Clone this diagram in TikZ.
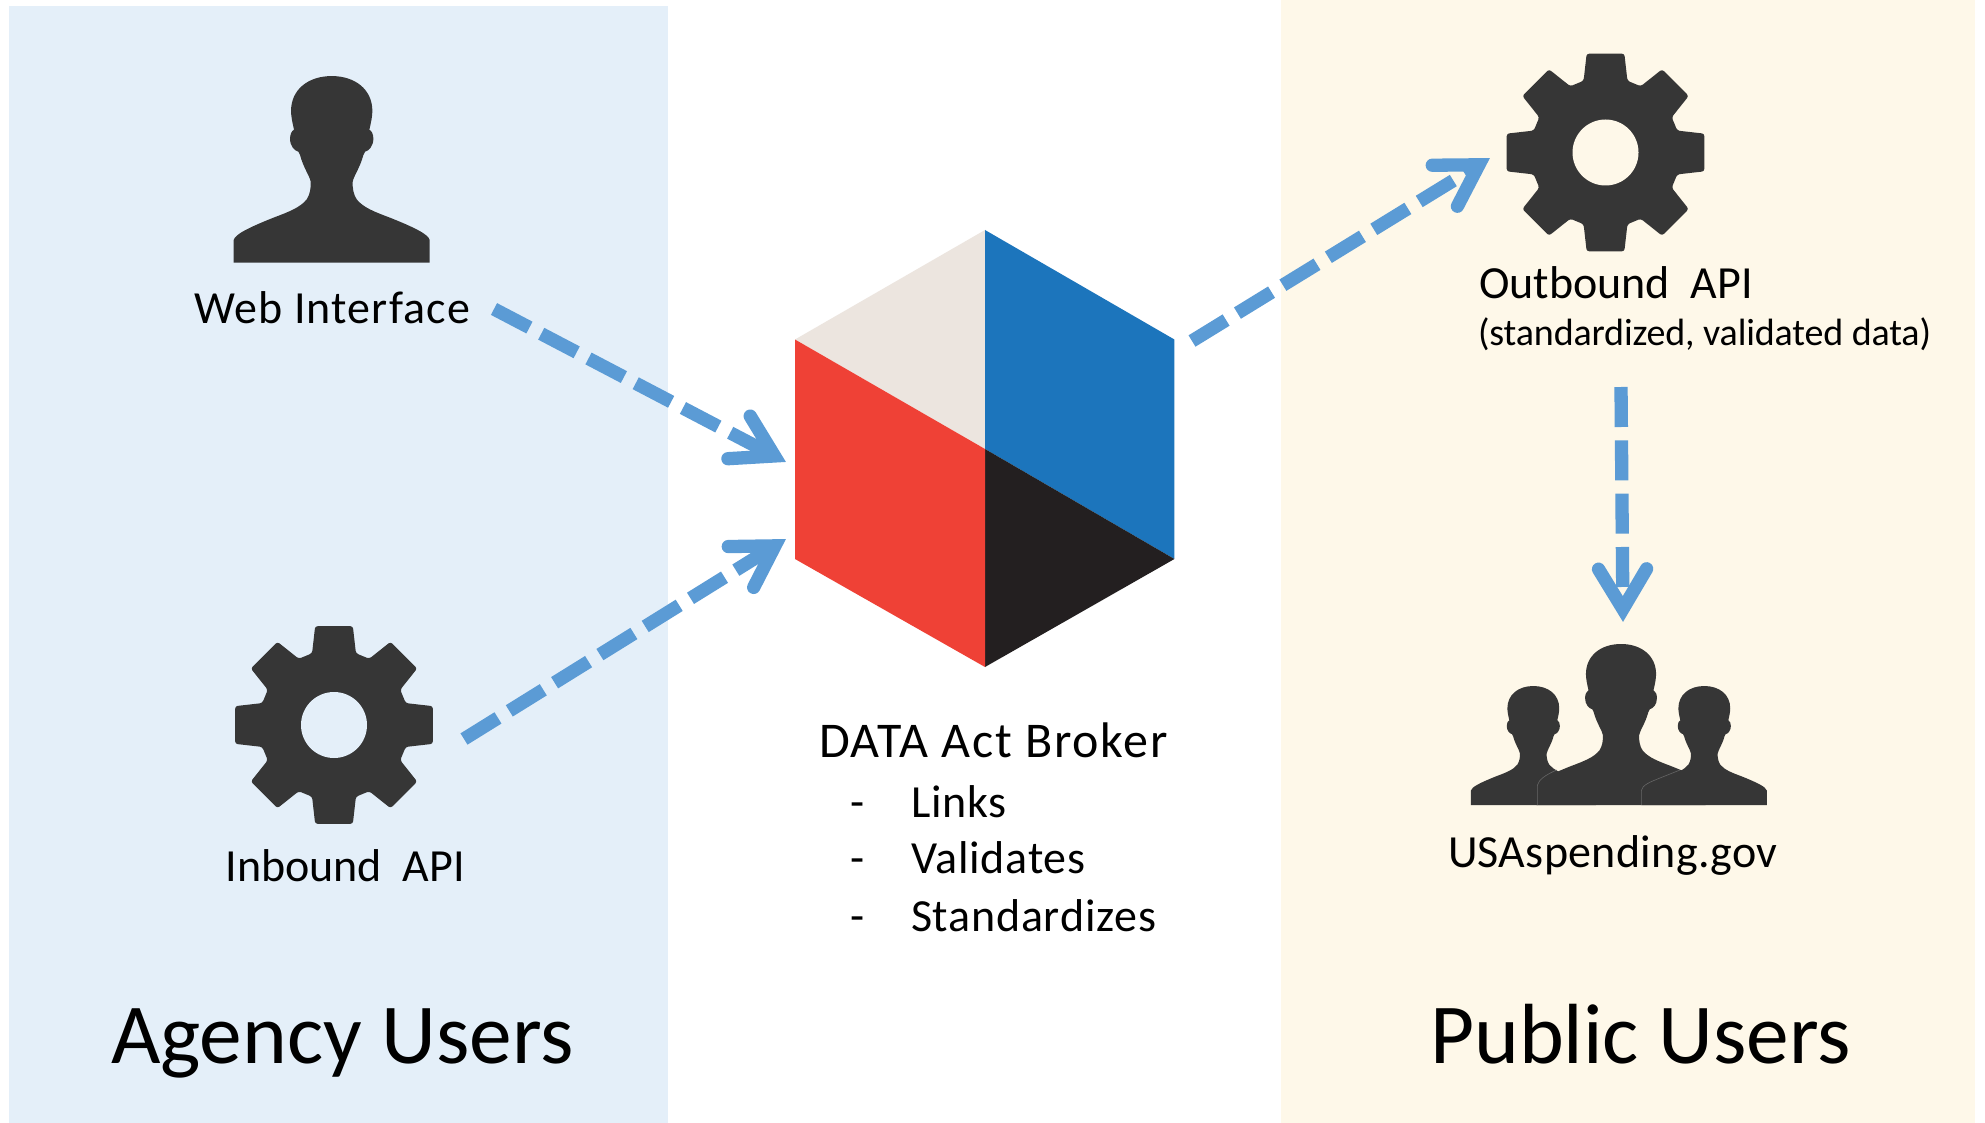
\documentclass[tikz,border=0pt]{standalone}
\usepackage{fontspec}
\setmainfont{Carlito}
\usetikzlibrary{calc}
\definecolor{agencybg}{HTML}{E4EFF9}
\definecolor{publicbg}{HTML}{FEF8E9}
\definecolor{iconcol}{HTML}{363636}
\definecolor{edgecol}{HTML}{666666}
\definecolor{flowcol}{HTML}{5B9BD5}
\definecolor{hexbeige}{HTML}{ECE5DF}
\definecolor{hexblue}{HTML}{1C75BC}
\definecolor{hexred}{HTML}{EF4136}
\definecolor{hexblack}{HTML}{231F20}
\newcommand{\lblfont}[2]{\fontsize{#1}{#1}\selectfont\addfontfeatures{LetterSpace=#2}}
\tikzset{
  lbl/.style={inner sep=0pt,outer sep=0pt,anchor=base west,text=black},
  lblS/.style={lbl,font=\lblfont{46}{0}},
  lblL/.style={lbl,font=\lblfont{46}{1.7}},
  lblW/.style={lbl,font=\lblfont{46}{2.5}},
  lblU/.style={lbl,font=\lblfont{46}{0.7}},
  lblD/.style={lbl,font=\lblfont{50}{3.5}},
  lblT/.style={lbl,font=\lblfont{38}{-0.35}},
  lblB/.style={lbl,font=\lblfont{85.4}{0}},
  flowline/.style={draw=flowcol,line width=13.3pt,line cap=butt,dash pattern=on 40pt off 13.33pt,shorten >=23pt},
  flowhead/.style={draw=flowcol,line width=13.3pt,line cap=round,line join=miter,miter limit=10},
  gearicon/.pic={
    \fill[iconcol,rounded corners=2.5pt] (-22.5:74.7)
      foreach \a in {0,45,...,315} { -- ({\a-17}:75) -- ({\a-10.8}:100.6) -- ({\a+10.8}:100.6) -- ({\a+17}:75) } -- cycle;
  },
  personicon/.pic={
    \fill[iconcol] (-294,0) -- (-294,-68)
      .. controls (-290,-85) and (-250,-105) .. (-175,-135)
      .. controls (-130,-152) and (-95,-165) .. (-75,-190)
      .. controls (-65,-205) and (-62,-225) .. (-63,-243)
      .. controls (-66,-260) and (-85,-285) .. (-95,-323)
      -- (-100,-333)
      .. controls (-112,-336) and (-125,-350) .. (-125,-372)
      .. controls (-125,-385) and (-120,-396) .. (-113,-399)
      .. controls (-118,-420) and (-122,-440) .. (-122,-455)
      .. controls (-122,-520) and (-70,-560) .. (0,-560)
      .. controls (70,-560) and (122,-520) .. (122,-455)
      .. controls (122,-440) and (118,-420) .. (113,-399)
      .. controls (120,-396) and (125,-385) .. (125,-372)
      .. controls (125,-350) and (112,-336) .. (100,-333)
      -- (95,-323)
      .. controls (85,-285) and (66,-260) .. (63,-243)
      .. controls (62,-225) and (65,-205) .. (75,-190)
      .. controls (95,-165) and (130,-152) .. (175,-135)
      .. controls (250,-105) and (290,-85) .. (294,-68)
      -- (294,0) -- cycle;
  }
}
\newcommand{\flowarrow}[2]{%
  \draw[flowline] (#1) -- (#2);
  \draw[flowhead] ($(#2)!58.2pt!24.4:(#1)$) -- ($(#2)!13pt!(#1)$) -- ($(#2)!58.2pt!-24.4:(#1)$);
}
\begin{document}
\begin{tikzpicture}[x=1pt,y=-1pt]
\useasboundingbox (0,0) rectangle (1985,1123);
\fill[white] (0,0) rectangle (1985,1123);
\fill[agencybg] (9,6.5) rectangle (668,1123);
\fill[publicbg] (1281,0) rectangle (1975,1123);

% icons
\pic at (331.7,262.7) [scale=0.3333] {personicon};
\pic at (334,725) {gearicon};
\fill[agencybg] (334,725) circle (33);
\pic at (1605.5,152.5) {gearicon};
\fill[publicbg] (1605.5,152.5) circle (33);

% group of people
\pic at (1533.3,805) [scale=0.2125] {personicon};
\pic at (1621,805) [scale=0.2875] {personicon};
\pic at (1704.3,805) [scale=0.2125] {personicon};
\draw[edgecol,line width=0.6pt] (1537.3,805) -- (1537.3,785.5)
  .. controls (1538.5,780) and (1545,775) .. (1556.7,770);
\draw[edgecol,line width=0.6pt] (1641.3,805) -- (1641.3,790.5)
  .. controls (1642.3,785) and (1650,782) .. (1660,778) -- (1680,770);

% hexagon
\coordinate (hT) at (985,230);
\coordinate (hUR) at (1174.4,339.5);
\coordinate (hLR) at (1174.4,559);
\coordinate (hB) at (985,667);
\coordinate (hLL) at (795,559);
\coordinate (hUL) at (795,339.5);
\coordinate (hC) at (985,449);
\fill[hexbeige] (hT) -- (hC) -- (hUL) -- cycle;
\fill[hexblue] (hT) -- (hUR) -- (hLR) -- (hC) -- cycle;
\fill[hexblack] (hC) -- (hLR) -- (hB) -- cycle;
\fill[hexred] (hUL) -- (hC) -- (hB) -- (hLL) -- cycle;

% labels
\node[lblW] (web) at (194,323.7) {Web Interface};
\node[lblS] (inbound) at (225.5,881) {Inbound\ \ API};
\node[lblD] (broker) at (819,757.3) {DATA Act Broker};
\node[lblS] (dash1) at (850,817.7) {-};
\node[lblL] (links) at (911,817.7) {Links};
\node[lblS] (dash2) at (850,873.7) {-};
\node[lblL] (validates) at (911,873.7) {Validates};
\node[lblS] (dash3) at (850,931) {-};
\node[lblL] (standard) at (911,931) {Standardizes};
\node[lblS] (outbound) at (1479,298.2) {Outbound\ \ API};
\node[lblT] (outsub) at (1478,345.5) {(standardized, validated data)};
\node[lblU] (usa) at (1448,867) {USAspending.gov};
\node[lblB] (agency) at (111,1063) {Agency Users};
\node[lblB] (public) at (1430,1063) {Public Users};

% connectors
\coordinate (a1s) at (494,309);
\coordinate (a1e) at (786,462);
\coordinate (a2s) at (464,739);
\coordinate (a2e) at (786,539);
\coordinate (a3s) at (1192,341);
\coordinate (a3e) at (1490,158);
\coordinate (a4s) at (1621,387);
\coordinate (a4e) at (1623,622);
\flowarrow{a1s}{a1e}
\flowarrow{a2s}{a2e}
\flowarrow{a3s}{a3e}
\flowarrow{a4s}{a4e}
\end{tikzpicture}
\end{document}
